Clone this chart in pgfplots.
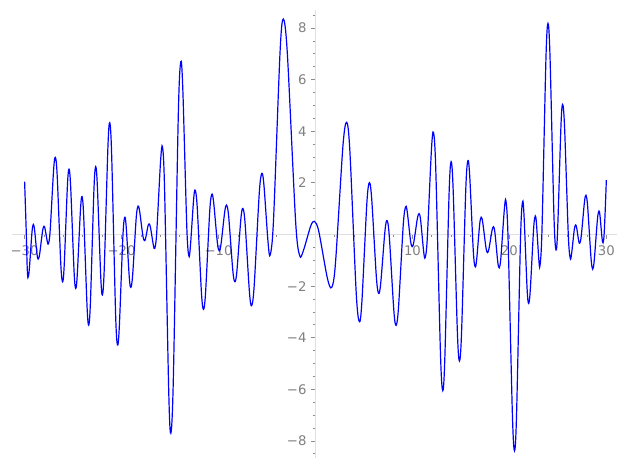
\documentclass[border=0pt]{standalone}
\usepackage{fontspec}
\setmainfont{DejaVu Sans}
\usepackage{pgfplots}
\pgfplotsset{compat=1.18}
\begin{document}
\begin{tikzpicture}
\begin{axis}[name=ax, scale only axis, width=605bp, height=448bp,
  xmin=-31.3, xmax=31.1, ymin=-8.66, ymax=8.70,
  axis lines=middle,
  axis line style={draw=black!12, line width=1bp, -},
  every inner x axis line/.append style={-},
  every inner y axis line/.append style={-},
  xtick={-30,-20,-10,10,20,30}, xticklabels={−30,−20,−10,10,20,30},
  ytick={-8,-6,-4,-2,2,4,6,8}, yticklabels={−8,−6,−4,−2,2,4,6,8},
  minor xtick={-28,-26,...,28}, minor ytick={-8.5,-8,...,8.5},
  tick style={draw=black!45, line width=0.8bp},
  major tick length=4bp, minor tick length=2.5bp, tick align=outside,
  ticklabel style={font=\fontsize{13.3}{15}\selectfont, text=black!50},
  xticklabel style={yshift=-3.5bp},
  yticklabel style={xshift=-1.5bp},
  clip=false]
\addplot[blue, line width=1.2bp, smooth, no markers] coordinates {
(-30.00,2.05) (-29.83,0.10) (-29.74,-1.20) (-29.66,-1.67)
(-29.52,-1.37) (-29.24,0.09) (-29.10,0.39)
(-28.975,0.19) (-28.725,-0.75) (-28.60,-0.95)
(-28.45,-0.76) (-28.15,0.13) (-28.00,0.32)
(-27.89,0.22) (-27.66,-0.27) (-27.55,-0.37)
(-27.37,0.12) (-27.01,2.50) (-26.83,2.99)
(-26.64,2.29) (-26.27,-1.13) (-26.08,-1.83)
(-25.915,-1.19) (-25.585,1.89) (-25.42,2.53)
(-25.25,1.86) (-24.90,-1.42) (-24.73,-2.09)
(-24.57,-1.57) (-24.24,0.95) (-24.08,1.47)
(-23.91,0.74) (-23.56,-2.78) (-23.39,-3.51)
(-23.21,-2.61) (-22.85,1.73) (-22.67,2.63)
(-22.50,1.90) (-22.15,-1.61) (-21.98,-2.34)
(-21.79,-1.37) (-21.41,3.36) (-21.22,4.33)
(-21.02,3.07) (-20.62,-3.02) (-20.42,-4.28)
(-20.23,-3.56) (-19.86,-0.05) (-19.67,0.67)
(-19.515,0.27) (-19.205,-1.65) (-19.05,-2.05)
(-18.86,-1.59) (-18.49,0.64) (-18.30,1.10)
(-18.135,0.90) (-17.805,-0.04) (-17.64,-0.24)
(-17.52,-0.15) (-17.28,0.32) (-17.16,0.41)
(-17.015,0.27) (-16.725,-0.40) (-16.58,-0.54)
(-16.38,0.04) (-15.98,2.82) (-15.78,3.40)
(-15.565,1.78) (-15.135,-6.08) (-14.92,-7.70)
(-14.66,-5.60) (-14.15,4.60) (-13.89,6.70)
(-13.68,5.60) (-13.27,0.27) (-13.06,-0.83)
(-12.90,-0.46) (-12.57,1.35) (-12.41,1.72)
(-12.195,1.05) (-11.765,-2.23) (-11.55,-2.90)
(-11.335,-2.25) (-10.905,0.91) (-10.69,1.56)
(-10.50,1.24) (-10.12,-0.31) (-9.93,-0.63)
(-9.74,-0.37) (-9.36,0.88) (-9.17,1.14)
(-8.955,0.71) (-8.525,-1.40) (-8.31,-1.83)
(-8.105,-1.42) (-7.695,0.60) (-7.49,1.01)
(-7.265,0.46) (-6.815,-2.21) (-6.59,-2.76)
(-6.325,-2.01) (-5.795,1.62) (-5.53,2.37)
(-5.315,1.91) (-4.885,-0.33) (-4.67,-0.79)
(-4.33,0.54) (-3.66,7.02) (-3.32,8.35)
(-2.90,7.01) (-2.05,0.52) (-1.63,-0.82)
(-1.25,-0.63) (-0.50,0.32) (-0.12,0.51)
(0.33,0.14) (1.22,-1.68) (1.67,-2.05)
(2.06,-1.12) (2.83,3.42) (3.22,4.35)
(3.55,3.22) (4.20,-2.25) (4.53,-3.38)
(4.79,-2.59) (5.30,1.22) (5.56,2.01)
(5.80,1.38) (6.28,-1.65) (6.52,-2.28)
(6.735,-1.87) (7.165,0.13) (7.38,0.54)
(7.61,-0.05) (8.08,-2.93) (8.31,-3.52)
(8.56,-2.85) (9.06,0.41) (9.31,1.08)
(9.475,0.85) (9.805,-0.24) (9.97,-0.47)
(10.15,-0.28) (10.51,0.62) (10.69,0.81)
(10.845,0.56) (11.155,-0.65) (11.31,-0.90)
(11.525,-0.19) (11.955,3.25) (12.17,3.96)
(12.41,2.50) (12.89,-4.59) (13.13,-6.05)
(13.345,-4.75) (13.775,1.52) (13.99,2.82)
(14.205,1.69) (14.635,-3.77) (14.85,-4.90)
(15.07,-3.77) (15.50,1.73) (15.72,2.86)
(15.91,2.26) (16.28,-0.65) (16.47,-1.25)
(16.625,-0.97) (16.935,0.39) (17.09,0.67)
(17.25,0.47) (17.58,-0.50) (17.74,-0.70)
(17.895,-0.55) (18.205,0.15) (18.36,0.30)
(18.51,0.07) (18.80,-1.06) (18.95,-1.29)
(19.12,-0.91) (19.47,0.93) (19.64,1.31)
(19.86,-0.10) (20.31,-6.97) (20.53,-8.38)
(20.74,-6.97) (21.15,-0.14) (21.36,1.27)
(21.515,0.69) (21.825,-2.09) (21.98,-2.67)
(22.15,-2.18) (22.50,0.23) (22.67,0.72)
(22.79,0.44) (23.03,-0.94) (23.15,-1.22)
(23.36,0.15) (23.77,6.81) (23.98,8.18)
(24.19,6.90) (24.60,0.68) (24.81,-0.60)
(24.98,0.22) (25.32,4.22) (25.49,5.04)
(25.69,4.17) (26.08,-0.05) (26.28,-0.92)
(26.42,-0.73) (26.69,0.18) (26.83,0.37)
(26.935,0.27) (27.145,-0.24) (27.25,-0.34)
(27.41,-0.07) (27.74,1.25) (27.90,1.52)
(28.07,1.10) (28.42,-0.92) (28.59,-1.34)
(28.75,-1.01) (29.08,0.58) (29.24,0.91)
(29.345,0.73) (29.555,-0.14) (29.66,-0.32)
(29.76,-0.05) (29.88,0.90) (30.00,2.11)
};
\end{axis}
\pgfresetboundingbox
\path[use as bounding box] ([shift={(-12bp,-12bp)}]ax.south west) rectangle ([shift={(10bp,10bp)}]ax.north east);
\end{tikzpicture}
\end{document}
